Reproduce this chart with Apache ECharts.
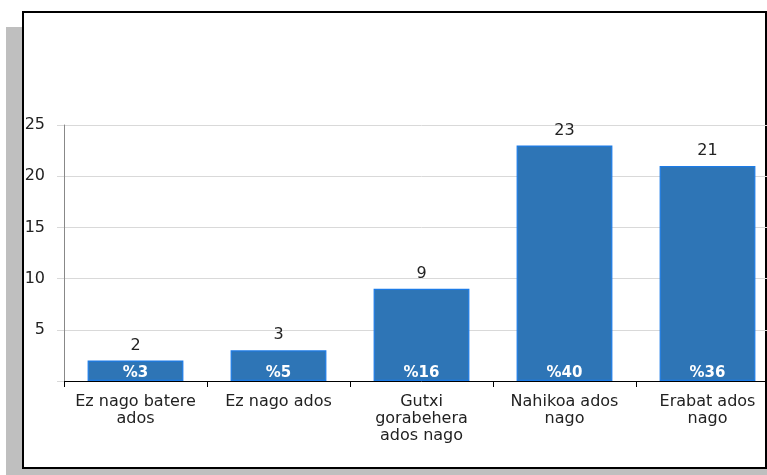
<!DOCTYPE html>
<html>
<head>
<meta charset="utf-8">
<script src="https://cdn.jsdelivr.net/npm/echarts@6/dist/echarts.min.js"></script>
<style>
  html, body { margin: 0; padding: 0; background: #fff; overflow: hidden; width: 767px; height: 475px; }
  .shadow { position: absolute; left: 6px; top: 27px; width: 761px; height: 448px; background: #bfbfbf; }
  .frame { position: absolute; left: 22px; top: 11px; width: 741px; height: 454px; background: #fff; border: 2px solid #000; }
  #chart { position: absolute; left: 0; top: 0; width: 779px; height: 475px; }
</style>
</head>
<body>
<div class="shadow"></div>
<div class="frame"></div>
<div id="chart"></div>
<script>
// datuak
const categories = ['Ez nago batere\nados', 'Ez nago ados', 'Gutxi\ngorabehera\nados nago', 'Nahikoa ados\nnago', 'Erabat ados\nnago']
const counts = [2, 3, 9, 23, 21]
const percents = ['%3', '%5', '%16', '%40', '%36']
const yTicks = [0, 5, 10, 15, 20, 25]

const chart = echarts.init(document.getElementById('chart'))

const option = {
  animation: false,
  backgroundColor: 'transparent',
  textStyle: { fontFamily: 'DejaVu Sans' },
  grid: { left: 64, top: 125, right: 0, bottom: 94 },
  xAxis: {
    type: 'category',
    data: categories,
    axisLine: { lineStyle: { color: '#000', width: 1 } },
    axisTick: { show: true, length: 6, lineStyle: { color: '#000' } },
    axisLabel: { color: '#222', fontSize: 16, lineHeight: 17, margin: 12, interval: 0 }
  },
  yAxis: {
    type: 'value',
    min: yTicks[0],
    max: yTicks[yTicks.length - 1],
    interval: 5,
    axisLine: { show: true, lineStyle: { color: '#888' } },
    axisTick: { show: true, length: 7, lineStyle: { color: '#d9d9d9' } },
    axisLabel: {
      color: '#222',
      fontSize: 16,
      margin: 19,
      formatter: v => (v === 0 ? '' : v)
    },
    splitLine: { lineStyle: { color: '#d9d9d9' } }
  },
  series: [
    {
      type: 'bar',
      data: counts,
      barWidth: '67%',
      itemStyle: { color: '#2E75B6', borderColor: '#1C7BE6', borderWidth: 1.2 },
      label: { show: true, position: 'top', distance: 7, color: '#222', fontSize: 16 }
    },
    {
      // barruko ehunekoak
      type: 'bar',
      data: counts,
      barWidth: '67%',
      barGap: '-100%',
      silent: true,
      itemStyle: { color: 'transparent' },
      label: {
        show: true,
        position: 'insideBottom',
        distance: 0,
        color: '#fff',
        fontSize: 15,
        fontWeight: 'bold',
        formatter: p => percents[p.dataIndex]
      }
    }
  ]
}

chart.setOption(option)
</script>
</body>
</html>
